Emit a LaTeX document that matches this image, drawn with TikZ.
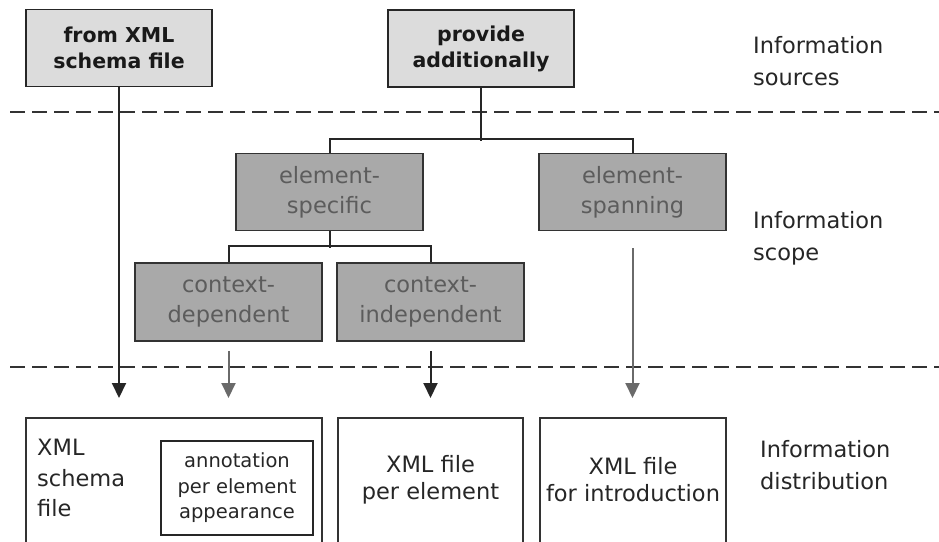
\documentclass[tikz,border=0pt]{standalone}
\usepackage{fontspec}
\setmainfont{DejaVu Sans}
\usetikzlibrary{arrows.meta}
\definecolor{srcfill}{HTML}{DCDCDC}
\definecolor{scopefill}{HTML}{A9A9A9}
\definecolor{scopetext}{HTML}{5C5C5C}
\definecolor{darktext}{HTML}{262626}
\definecolor{grayarrow}{HTML}{6A6A6A}
\begin{document}
\begin{tikzpicture}[x=1pt,y=-1pt,
  srcbox/.style={draw=black!85,line width=1.9pt,fill=srcfill,minimum width=186pt,minimum height=77pt,inner sep=0pt,align=center,font=\fontsize{20.5}{26}\selectfont\bfseries,text=black!90},
  scopebox/.style={draw=black!80,line width=1.9pt,fill=scopefill,minimum width=187pt,minimum height=77pt,inner sep=0pt,align=center,font=\fontsize{22.5}{30}\selectfont,text=scopetext},
  distbox/.style={draw=black!80,line width=1.5pt,inner sep=0pt,minimum height=160pt},
  txt/.style={inner sep=0pt,text=darktext,font=\fontsize{22.5}{27}\selectfont},
  side/.style={inner sep=0pt,anchor=west,align=left,text=darktext,font=\fontsize{22.5}{32}\selectfont},
  tree/.style={draw=black!85,line width=2pt},
  arr/.style={line width=2pt,-{Triangle[width=14pt,length=15pt]}},
  sep/.style={draw=black!80,line width=1.6pt,dash pattern=on 15pt off 7pt}]
\useasboundingbox (0,0) rectangle (939,541);
\clip (0,0) rectangle (939,541);

% separators
\draw[sep] (10,112) coordinate (s1a) -- (939,112) coordinate (s1b);
\draw[sep] (10,367) coordinate (s2a) -- (939,367) coordinate (s2b);

% information sources
\node[srcbox] (from) at (119,48) {from XML\\schema file};
\node[srcbox] (prov) at (481,48.5) {provide\\additionally};

% information scope
\node[scopebox] (espec) at (329.5,192) {element-\\specific};
\node[scopebox] (espan) at (632.5,192) {element-\\spanning};
\node[scopebox,minimum height=78pt] (cdep) at (228.5,302) {context-\\dependent};
\node[scopebox,minimum height=78pt] (cind) at (430.5,302) {context-\\independent};

% information distribution
\node[distbox,minimum width=296pt,anchor=north] (xsd) at (174,417) {};
\node[distbox,minimum width=185pt,anchor=north] (perel) at (430.5,417) {};
\node[distbox,minimum width=186pt,anchor=north] (intro) at (633,417) {};
\node[draw=black!85,line width=1.7pt,minimum width=152pt,minimum height=94pt,inner sep=0pt,align=center,text=darktext,font=\fontsize{19.5}{25.5}\selectfont] (annot) at (237,488) {annotation\\per element\\appearance};
\node[txt,anchor=north west,align=left,font=\fontsize{22.5}{30.5}\selectfont] (xsdtxt) at (37,439) {XML\\schema\\file};
\node[txt,align=center] (pertxt) at (430.5,480) {XML file\\per element};
\node[txt,align=center] (introtxt) at (633,480) {XML file\\for introduction};

% side labels
\node[side] (l1) at (753,61) {Information\\sources};
\node[side] (l2) at (753,238) {Information\\scope};
\node[side] (l3) at (760,465) {Information\\distribution};

% tree connectors
\draw[tree] (prov.south) -- ++(0,53) coordinate (j1);
\draw[tree] (espec.north) -- ++(0,-14) -| (espan.north);
\draw[tree] (espec.south) -- ++(0,17) coordinate (j2);
\draw[tree] (cdep.north) -- ++(0,-16) -| (cind.north);

% arrows
\draw[arr,black!85,shorten >=19pt] (from.south) -- (from.south |- xsd.north);
\draw[arr,grayarrow,shorten <=9pt,shorten >=19pt] (cdep.south) -- (cdep.south |- xsd.north);
\draw[arr,black!85,shorten <=9pt,shorten >=19pt] (cind.south) -- (cind.south |- perel.north);
\draw[arr,grayarrow,shorten <=17pt,shorten >=19pt] (espan.south) -- (espan.south |- intro.north);
\end{tikzpicture}
\end{document}
